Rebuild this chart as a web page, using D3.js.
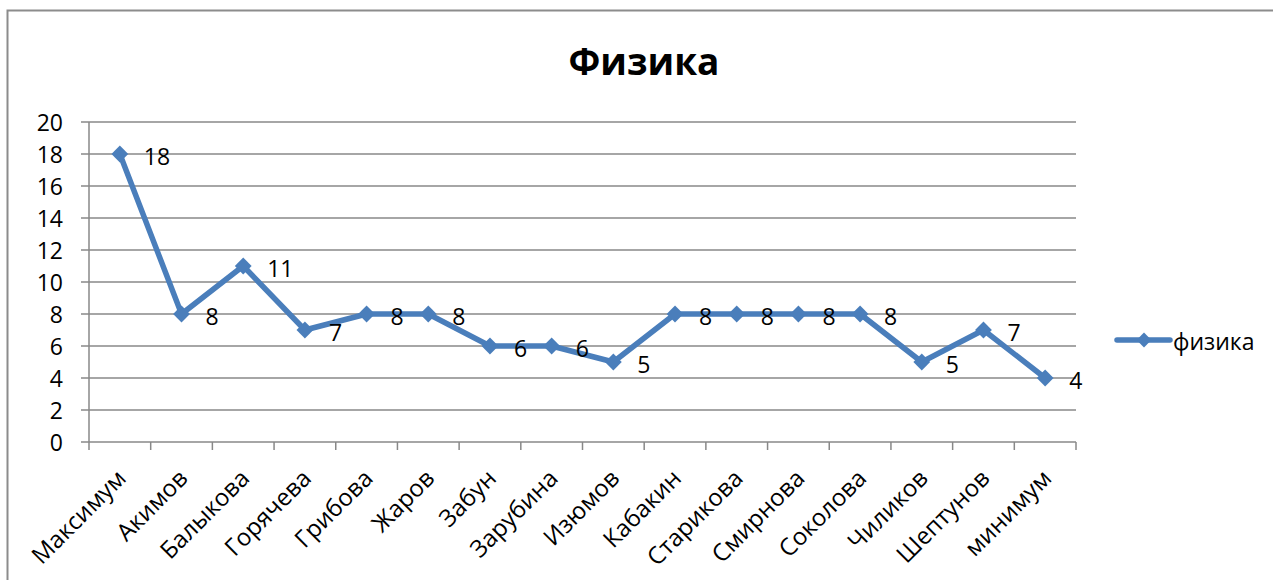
<!DOCTYPE html>
<html>
<head>
<meta charset="utf-8">
<script src="https://cdn.jsdelivr.net/npm/d3@7/dist/d3.min.js"></script>
<style>
  html, body { margin: 0; padding: 0; background: #fff; }
  svg { display: block; font-family: "Open Sans", "Noto Sans", sans-serif; }
</style>
</head>
<body>
<svg id="chart" width="1273" height="580"></svg>
<script>
// Students and their physics scores
const categories = ["Максимум", "Акимов", "Балыкова", "Горячева", "Грибова", "Жаров", "Забун",
  "Зарубина", "Изюмов", "Кабакин", "Старикова", "Смирнова", "Соколова", "Чиликов", "Шептунов", "минимум"];
const scores = [18, 8, 11, 7, 8, 8, 6, 6, 5, 8, 8, 8, 8, 5, 7, 4];
const yTicks = [0, 2, 4, 6, 8, 10, 12, 14, 16, 18, 20];
const seriesName = "физика";
const chartTitle = "Физика";

const svg = d3.select("#chart");
const lineColor = "#4a7ebb";
const gridColor = "#888888";
const fontSize = 23;

// outer frame
svg.append("rect")
  .attr("x", 7.5).attr("y", 10.5)
  .attr("width", 1300).attr("height", 600)
  .attr("fill", "none").attr("stroke", "#8c8c8c").attr("stroke-width", 2);

const plot = { left: 89, right: 1076, top: 122, bottom: 442 };

const x = d3.scaleBand().domain(categories).range([plot.left, plot.right]).padding(0);
const y = d3.scaleLinear().domain([0, 20]).range([plot.bottom, plot.top]);
const cx = c => x(c) + x.bandwidth() / 2;

// horizontal gridlines
svg.append("g").selectAll("line").data(yTicks).join("line")
  .attr("x1", plot.left - 8).attr("x2", plot.right)
  .attr("y1", d => y(d)).attr("y2", d => y(d))
  .attr("stroke", gridColor).attr("stroke-width", 1.5);

// y axis line
svg.append("line")
  .attr("x1", plot.left).attr("x2", plot.left)
  .attr("y1", plot.top).attr("y2", plot.bottom)
  .attr("stroke", gridColor).attr("stroke-width", 1.5);

// y tick labels
svg.append("g").selectAll("text").data(yTicks).join("text")
  .attr("x", plot.left - 26).attr("y", d => y(d))
  .attr("text-anchor", "end").attr("dominant-baseline", "central")
  .attr("font-size", fontSize).attr("fill", "#000")
  .text(d => d);

// category boundary ticks under the x axis
const bounds = categories.map(c => x(c)).concat([plot.right]);
svg.append("g").selectAll("line").data(bounds).join("line")
  .attr("x1", d => d).attr("x2", d => d)
  .attr("y1", plot.bottom).attr("y2", plot.bottom + 8)
  .attr("stroke", gridColor).attr("stroke-width", 1.5);

// rotated category labels
svg.append("g").selectAll("text").data(categories).join("text")
  .attr("transform", d => `translate(${cx(d) + 1},${plot.bottom + 31}) rotate(-45)`)
  .attr("text-anchor", "end").attr("dominant-baseline", "central")
  .attr("font-size", 24).attr("fill", "#000")
  .text(d => d);

// series line
const pts = categories.map((c, i) => ({ c, v: scores[i] }));
const line = d3.line().x(d => cx(d.c)).y(d => y(d.v));
svg.append("path").datum(pts)
  .attr("d", line).attr("fill", "none")
  .attr("stroke", lineColor).attr("stroke-width", 5.5).attr("stroke-linejoin", "round");

// diamond markers
const diamond = d3.symbol().type(d3.symbolDiamond2).size(180);
svg.append("g").selectAll("path").data(pts).join("path")
  .attr("d", diamond)
  .attr("transform", d => `translate(${cx(d.c)},${y(d.v)})`)
  .attr("fill", lineColor);

// data labels
svg.append("g").selectAll("text").data(pts).join("text")
  .attr("x", d => cx(d.c) + 24)
  .attr("y", d => y(d.v) + 2)
  .attr("dominant-baseline", "central")
  .attr("font-size", fontSize).attr("fill", "#000")
  .text(d => d.v);

// title
svg.append("text")
  .attr("x", 644).attr("y", 75)
  .attr("text-anchor", "middle")
  .attr("font-size", 37).attr("font-weight", "bold").attr("fill", "#000")
  .text(chartTitle);

// legend
const lg = svg.append("g").attr("transform", "translate(1117,340)");
lg.append("line").attr("x1", 0).attr("x2", 53).attr("y1", 0).attr("y2", 0)
  .attr("stroke", lineColor).attr("stroke-width", 5.5).attr("stroke-linecap", "round");
lg.append("path").attr("d", d3.symbol().type(d3.symbolDiamond2).size(140)).attr("transform", "translate(27,0)").attr("fill", lineColor);
lg.append("text").attr("x", 56).attr("y", 1)
  .attr("dominant-baseline", "central").attr("font-size", fontSize).attr("fill", "#000")
  .text(seriesName);
</script>
</body>
</html>
